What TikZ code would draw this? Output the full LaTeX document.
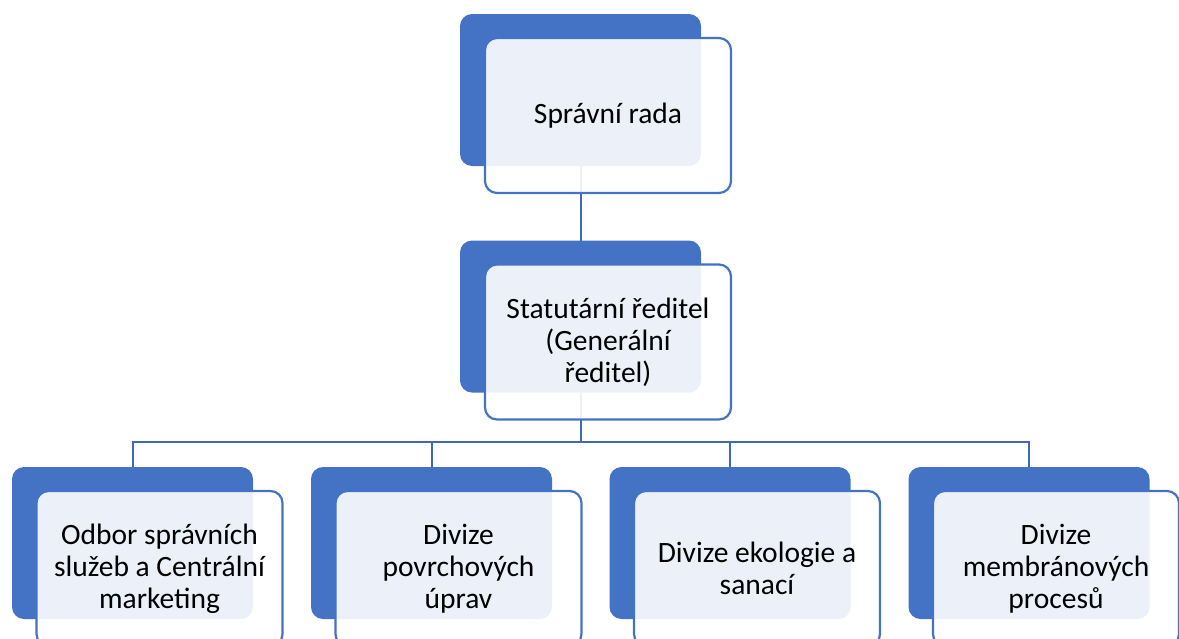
\documentclass[tikz,border=0pt]{standalone}
\usepackage{fontspec}
\setmainfont{Carlito}
\definecolor{accent}{HTML}{4472C4}
\definecolor{linec}{HTML}{3F69B6}
\begin{document}
\begin{tikzpicture}[x=1pt,y=-1pt,
  bluebox/.style={fill=accent, rounded corners=12pt, minimum width=241pt, minimum height=152pt, inner sep=0pt, outer sep=0pt},
  whitebox/.style={draw=accent, line width=2.2pt, fill=white, fill opacity=0.9, text opacity=1, rounded corners=12pt, minimum width=246pt, minimum height=155pt, inner sep=0pt, outer sep=0pt, align=center, font=\fontsize{29.5}{32}\selectfont, text=black},
  conn/.style={draw=linec, line width=2pt}]
\useasboundingbox (0,0) rectangle (1179,638);
% blue back boxes
\node[bluebox] (b1) at (580.5,90) {};
\node[bluebox] (b2) at (580.5,316.5) {};
\node[bluebox] (b3) at (132.5,543) {};
\node[bluebox] (b4) at (431.5,543) {};
\node[bluebox] (b5) at (730,543) {};
\node[bluebox] (b6) at (1029,543) {};
% connectors
\coordinate (bus) at (580.5,442);
\draw[conn] (b1.south) -- (b2.north);
\draw[conn] (b2.south) -- (bus);
\draw[conn] (bus) -| (b3.north);
\draw[conn] (bus) -| (b4.north);
\draw[conn] (bus) -| (b5.north);
\draw[conn] (bus) -| (b6.north);
% front boxes
\node[whitebox] (w1) at (608,115.5) {Správní rada};
\node[whitebox] (w2) at (608,342) {Statutární ředitel\\(Generální\\ředitel)};
\node[whitebox] (w3) at (159.5,568.5) {Odbor správních\\služeb a Centrální\\marketing};
\node[whitebox] (w4) at (458.5,568.5) {Divize\\povrchových\\úprav};
\node[whitebox] (w5) at (757,568.5) {Divize ekologie a\\sanací};
\node[whitebox] (w6) at (1056,568.5) {Divize\\membránových\\procesů};
\end{tikzpicture}
\end{document}
